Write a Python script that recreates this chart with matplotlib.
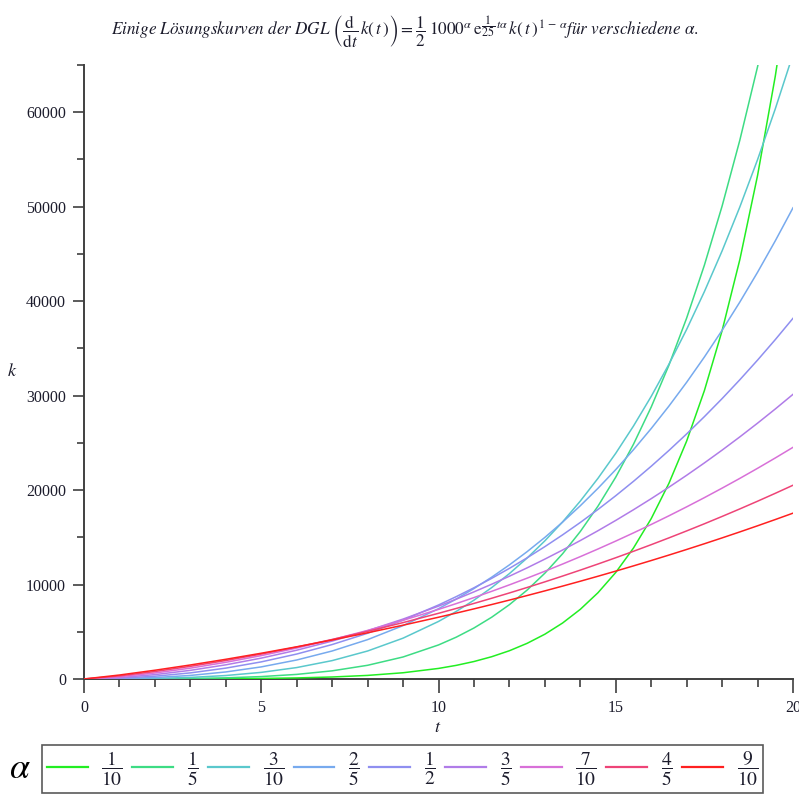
import matplotlib
matplotlib.use("Agg")
import matplotlib.pyplot as plt
from matplotlib.ticker import MultipleLocator
from matplotlib.lines import Line2D

plt.rcParams["mathtext.fontset"] = "stix"
plt.rcParams["font.family"] = ["Liberation Serif", "DejaVu Serif"]

# Time grid (coarse early, finer where the curves steepen)
t = [0, 1, 2, 3, 4, 5, 6, 7, 8, 9, 10,
     10.5, 11, 11.5, 12, 12.5, 13, 13.5, 14, 14.5, 15,
     15.5, 16, 16.5, 17, 17.5, 18, 18.5, 19, 19.5, 20]

# Solution curves k(t), one per alpha
k_a01 = [1, 3, 6, 14, 29, 59, 114, 212, 380, 661, 1119,
         1443, 1850, 2359, 2992, 3776, 4741, 5926, 7375, 9138, 11279,
         13864, 16976, 20715, 25188, 30527, 36877, 44395, 53299, 63806, 76160]
k_a02 = [1, 5, 19, 53, 123, 256, 487, 864, 1451, 2331, 3604,
         4427, 5398, 6539, 7868, 9414, 11200, 13257, 15614, 18306, 21371,
         24851, 28788, 33222, 38212, 43806, 50064, 57040, 64812, 73445, 83020]
k_a03 = [1, 14, 60, 167, 367, 701, 1211, 1947, 2964, 4323, 6092,
         7152, 8344, 9676, 11158, 12806, 14624, 16629, 18836, 21252, 23896,
         26780, 29916, 33322, 37012, 41007, 45320, 49970, 54978, 60355, 66131]
k_a04 = [1, 36, 151, 378, 746, 1281, 2012, 2965, 4168, 5651, 7443,
         8465, 9575, 10778, 12080, 13481, 14989, 16607, 18340, 20193, 22168,
         24273, 26514, 28891, 31412, 34085, 36915, 39903, 43057, 46384, 49882]
k_a05 = [1, 81, 294, 647, 1151, 1812, 2642, 3648, 4842, 6234, 7835,
         8718, 9657, 10655, 11712, 12830, 14012, 15258, 16571, 17952, 19403,
         20925, 22522, 24194, 25943, 27773, 29683, 31678, 33758, 35927, 38185]
k_a06 = [1, 149, 464, 917, 1500, 2211, 3049, 4015, 5112, 6344, 7713,
         8450, 9224, 10033, 10882, 11766, 12691, 13655, 14657, 15701, 16788,
         17918, 19090, 20306, 21567, 22874, 24229, 25631, 27083, 28584, 30136]
k_a07 = [1, 235, 635, 1151, 1767, 2476, 3276, 4165, 5142, 6210, 7369,
         7982, 8620, 9281, 9966, 10675, 11409, 12169, 12954, 13765, 14602,
         15467, 16358, 17277, 18224, 19199, 20205, 21238, 22304, 23399, 24526]
k_a08 = [1, 329, 792, 1340, 1957, 2638, 3381, 4184, 5047, 5970, 6954,
         7469, 8000, 8547, 9109, 9689, 10284, 10897, 11527, 12174, 12838,
         13520, 14220, 14939, 15676, 16432, 17210, 18005, 18821, 19657, 20513]
k_a09 = [1, 422, 928, 1485, 2086, 2728, 3409, 4131, 4892, 5695, 6538,
         6976, 7424, 7883, 8354, 8836, 9329, 9834, 10351, 10880, 11421,
         11975, 12541, 13120, 13713, 14318, 14938, 15571, 16219, 16881, 17557]

curves = [k_a01, k_a02, k_a03, k_a04, k_a05, k_a06, k_a07, k_a08, k_a09]
alpha_num = [1, 1, 3, 2, 1, 3, 7, 4, 9]
alpha_den = [10, 5, 10, 5, 2, 5, 10, 5, 10]
colors = ["#22ee22", "#3ddc84", "#5ac8cc", "#77aaee", "#8f8ff0",
          "#b07ce8", "#d870d8", "#ee4477", "#ff2020"]

x_ticks = [0, 5, 10, 15, 20]
y_ticks = [0, 10000, 20000, 30000, 40000, 50000, 60000]

W, H = 799, 794
fig = plt.figure(figsize=(W / 100, H / 100), dpi=100)
ax = fig.add_axes([84 / W, 1 - 679 / H, 709 / W, 614 / H])

for vals, col in zip(curves, colors):
    ax.plot(t, vals, color=col, lw=1.1, zorder=3)

ax.set_xlim(0, 20)
ax.set_ylim(0, 65000)
ax.set_xticks(x_ticks)
ax.set_yticks(y_ticks)
ax.xaxis.set_minor_locator(MultipleLocator(1))
ax.yaxis.set_minor_locator(MultipleLocator(5000))

for side in ("top", "right"):
    ax.spines[side].set_visible(False)
for side in ("left", "bottom"):
    ax.spines[side].set_color("#404040")
    ax.spines[side].set_linewidth(1.4)

txt_col = "#1c1c2c"
ax.tick_params(axis="x", which="major", length=10, width=1.2, color="#404040",
               pad=5, labelsize=11.5, labelcolor=txt_col)
ax.tick_params(axis="x", which="minor", length=6, width=1.2, color="#404040")
ax.tick_params(axis="y", which="major", length=8, width=1.2, color="#404040",
               pad=5, labelsize=11.5, labelcolor=txt_col)
ax.tick_params(axis="y", which="minor", length=5, width=1.2, color="#404040")

fig.text(438 / W, 1 - 727 / H, r"$t$", ha="center", va="center",
         fontsize=13, color=txt_col)
fig.text(12 / W, 1 - 372 / H, r"$k$", ha="center", va="center",
         fontsize=13, color=txt_col)

title = (r"$\mathit{Einige\ Lösungskurven\ der\ DGL}\ "
         r"\left(\dfrac{\mathrm{d}}{\mathrm{d}t}\,k(\,t\,)\right)"
         r" = \dfrac{1}{2}\;1000^{\alpha}\,\mathrm{e}^{\dfrac{1}{25}\,t\alpha}"
         r"\,k(\,t\,)^{\,1\,-\,\alpha}\mathit{für\ verschiedene}\ \alpha.$")
fig.text(405 / W, 1 - 31 / H, title, ha="center", va="center",
         fontsize=12.3, color=txt_col)

handles = [Line2D([], [], color=c, lw=1.6) for c in colors]
labels = [rf"$\dfrac{{{n}}}{{{d}}}$" for n, d in zip(alpha_num, alpha_den)]
leg = fig.legend(handles, labels, loc="lower left", ncol=9, mode="expand",
                 bbox_to_anchor=(42 / W, 1 - 793 / H, 721 / W, 58 / H),
                 frameon=True, fancybox=False, edgecolor="#303030",
                 handlelength=2.1, handletextpad=0.7, columnspacing=0.8,
                 borderpad=0.25, borderaxespad=0, fontsize=14)
leg.get_frame().set_linewidth(1.2)
for txt in leg.get_texts():
    txt.set_color(txt_col)

fig.text(20 / W, 1 - 770 / H, r"$\alpha$", ha="center", va="center",
         fontsize=26, color="black")

fig.savefig("out.png", dpi=100)
